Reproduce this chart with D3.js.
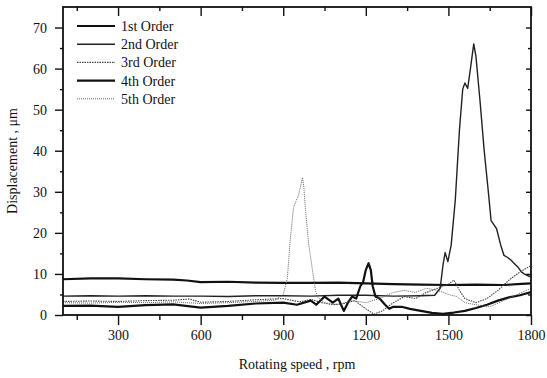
<!DOCTYPE html>
<html lang="en">
<head>
  <meta charset="UTF-8">
  <title>Displacement vs Rotating speed</title>
  <script src="https://d3js.org/d3.v7.min.js"></script>
  <style>
    body {
      margin: 0;
      background: #fff;
    }
    svg {
      font-family: "Liberation Serif", "Times New Roman", serif;
    }
    .tick text {
      font-family: "Liberation Serif", "Times New Roman", serif;
      font-size: 14px;
      fill: #111;
    }
    .tick line {
      stroke: #111;
      stroke-width: 1.4;
    }
    .legend text {
      font-size: 14px;
      fill: #111;
    }
  </style>
</head>
<body>
<div id="chart"></div>

<script>
  // values (rpm, um)
  const order1X = [100, 200, 300, 400, 500, 550, 600, 700, 800, 900, 1000, 1100, 1200, 1300, 1400, 1500, 1600, 1700, 1750, 1800];
  const order1Y = [8.7, 8.9, 8.9, 8.7, 8.6, 8.4, 8.0, 8.1, 7.9, 7.8, 7.8, 7.9, 7.7, 7.5, 7.4, 7.3, 7.4, 7.3, 7.5, 7.7];

  const order2X = [100, 200, 300, 400, 500, 600, 700, 800, 900, 1000, 1100, 1200, 1300, 1400, 1450, 1470, 1480, 1488, 1498, 1510, 1525, 1540, 1552, 1560, 1570, 1580, 1592, 1600, 1615, 1630, 1645, 1655, 1665, 1675, 1690, 1702, 1715, 1727, 1740, 1752, 1765, 1775, 1790, 1800];
  const order2Y = [4.6, 4.7, 4.6, 4.7, 4.6, 4.6, 4.5, 4.7, 4.7, 4.6, 4.8, 4.8, 4.6, 4.7, 4.8, 6.5, 12, 15.2, 13, 17, 28, 45, 55, 56.5, 55.2, 60, 66, 63, 52, 40, 30, 23, 22, 21, 17, 14.5, 14, 13.4, 12.5, 11.7, 10.5, 10, 9.5, 9.3];

  const order3X = [100, 200, 300, 400, 500, 560, 600, 700, 800, 900, 960, 1000, 1040, 1080, 1120, 1160, 1200, 1230, 1260, 1300, 1340, 1380, 1420, 1460, 1500, 1520, 1540, 1560, 1600, 1640, 1680, 1720, 1760, 1800];
  const order3Y = [3.3, 3.4, 3.3, 3.5, 3.6, 3.9, 3.1, 3.3, 3.7, 4.0, 3.2, 3.8, 3.0, 2.5, 2.8, 3.5, 1.5, 0.2, 1.0, 3.0, 4.5, 4.0, 5.5, 6.5, 7.5, 8.5, 6.0, 4.0, 3.0, 4.0, 6.0, 8.5, 10.5, 12];

  const order4X = [100, 200, 300, 400, 500, 600, 700, 800, 900, 950, 1000, 1020, 1050, 1080, 1100, 1120, 1135, 1150, 1165, 1180, 1190, 1200, 1210, 1218, 1225, 1235, 1250, 1270, 1285, 1300, 1330, 1360, 1400, 1440, 1480, 1520, 1560, 1600, 1640, 1680, 1720, 1760, 1800];
  const order4Y = [2.2, 2.3, 2.0, 2.4, 2.6, 1.8, 2.2, 2.8, 3.0, 2.5, 3.5, 2.5, 4.5, 3.0, 4.0, 1.0, 3.0, 4.5, 4.0, 7, 8, 11, 12.6, 11, 7, 4.5, 4.0, 2.5, 1.5, 2.0, 2.0, 1.5, 1.0, 0.5, 0.3, 0.6, 1.0, 1.7, 2.5, 3.5, 4.3, 4.8, 5.6];

  const order5X = [100, 200, 300, 400, 500, 600, 700, 800, 870, 900, 915, 925, 937, 945, 955, 970, 975, 981, 992, 1006, 1017, 1024, 1050, 1100, 1150, 1200, 1250, 1300, 1340, 1380, 1420, 1460, 1500, 1530, 1560, 1600, 1650, 1700, 1750, 1800];
  const order5Y = [3.0, 2.9, 3.1, 3.0, 3.2, 2.8, 3.0, 3.3, 3.6, 5, 9, 18, 26, 27.5, 29, 33.5, 31, 25.5, 17.5, 11, 6, 4.4, 3.0, 2.5, 3.5, 3.0, 4.0, 5.5, 6.0, 5.5, 6.5, 6.0, 5.0, 4.5, 3.0, 2.5, 2.0, 3.5, 5.0, 6.5];

  const orderNames = ["1st Order", "2nd Order", "3rd Order", "4th Order", "5th Order"];
  const xTicks = [300, 600, 900, 1200, 1500, 1800];
  const yTicks = [0, 10, 20, 30, 40, 50, 60, 70];

  const series = [
    { name: orderNames[0], xs: order1X, ys: order1Y },
    { name: orderNames[1], xs: order2X, ys: order2Y },
    { name: orderNames[2], xs: order3X, ys: order3Y },
    { name: orderNames[3], xs: order4X, ys: order4Y },
    { name: orderNames[4], xs: order5X, ys: order5Y }
  ];

  const lineStyle = {
    "1st Order": { color: "#111", width: 2.2, dash: null },
    "2nd Order": { color: "#222", width: 1.4, dash: null },
    "3rd Order": { color: "#444", width: 1.1, dash: "1.5,1" },
    "4th Order": { color: "#111", width: 2.2, dash: null },
    "5th Order": { color: "#666", width: 1, dash: "1,1" }
  };

  const width = 547;
  const height = 378;
  const margin = { top: 7, right: 16, bottom: 63, left: 63 };

  const svg = d3.select("#chart").append("svg")
    .attr("width", width)
    .attr("height", height);

  const x = d3.scaleLinear()
    .domain([100, 1800])
    .range([margin.left, width - margin.right]);

  const y = d3.scaleLinear()
    .domain([0, 75])
    .range([height - margin.bottom, margin.top]);

  svg.append("clipPath")
    .attr("id", "plot")
    .append("rect")
      .attr("x", margin.left)
      .attr("y", margin.top)
      .attr("width", width - margin.left - margin.right)
      .attr("height", height - margin.top - margin.bottom);

  // bottom axis, ticks outward
  svg.append("g")
    .attr("transform", `translate(0,${height - margin.bottom})`)
    .call(d3.axisBottom(x).tickValues(xTicks).tickFormat(d3.format("d"))
      .tickSize(10).tickPadding(5).tickSizeOuter(0))
    .call(g => g.select(".domain").remove());

  svg.append("g")
    .attr("transform", `translate(0,${height - margin.bottom})`)
    .call(d3.axisBottom(x).tickValues(d3.range(150, 1800, 300)).tickSize(5).tickFormat(""))
    .call(g => g.select(".domain").remove());

  // top axis, ticks inward
  svg.append("g")
    .attr("transform", `translate(0,${margin.top})`)
    .call(d3.axisTop(x).tickValues(xTicks).tickSize(-9).tickFormat(""))
    .call(g => g.select(".domain").remove());

  svg.append("g")
    .attr("transform", `translate(0,${margin.top})`)
    .call(d3.axisTop(x).tickValues(d3.range(150, 1800, 300)).tickSize(-4).tickFormat(""))
    .call(g => g.select(".domain").remove());

  // left axis, ticks outward
  svg.append("g")
    .attr("transform", `translate(${margin.left},0)`)
    .call(d3.axisLeft(y).tickValues(yTicks).tickSize(8).tickPadding(8))
    .call(g => g.select(".domain").remove());

  svg.append("g")
    .attr("transform", `translate(${margin.left},0)`)
    .call(d3.axisLeft(y).tickValues(d3.range(5, 75, 10)).tickSize(3).tickFormat(""))
    .call(g => g.select(".domain").remove());

  // right axis, ticks inward
  svg.append("g")
    .attr("transform", `translate(${width - margin.right},0)`)
    .call(d3.axisRight(y).tickValues(yTicks).tickSize(-5).tickFormat(""))
    .call(g => g.select(".domain").remove());

  svg.append("g")
    .attr("transform", `translate(${width - margin.right},0)`)
    .call(d3.axisRight(y).tickValues(d3.range(5, 75, 10)).tickSize(-3).tickFormat(""))
    .call(g => g.select(".domain").remove());

  const line = d3.line()
    .x(d => x(d[0]))
    .y(d => y(d[1]));

  svg.append("g")
    .attr("clip-path", "url(#plot)")
    .attr("fill", "none")
    .selectAll("path")
    .data(series)
    .join("path")
      .attr("d", s => line(d3.zip(s.xs, s.ys)))
      .attr("stroke", s => lineStyle[s.name].color)
      .attr("stroke-width", s => lineStyle[s.name].width)
      .attr("stroke-dasharray", s => lineStyle[s.name].dash)
      .attr("stroke-linejoin", "round");

  // frame
  svg.append("rect")
    .attr("x", margin.left)
    .attr("y", margin.top)
    .attr("width", width - margin.left - margin.right)
    .attr("height", height - margin.top - margin.bottom)
    .attr("fill", "none")
    .attr("stroke", "#111")
    .attr("stroke-width", 1.8);

  // legend
  const legend = svg.append("g")
    .attr("class", "legend")
    .selectAll("g")
    .data(orderNames)
    .join("g")
      .attr("transform", (d, i) => `translate(77,${26 + i * 18.2})`);

  legend.append("line")
    .attr("x1", 0)
    .attr("x2", 38)
    .attr("stroke", d => lineStyle[d].color)
    .attr("stroke-width", d => lineStyle[d].width)
    .attr("stroke-dasharray", d => lineStyle[d].dash);

  legend.append("text")
    .attr("x", 44)
    .attr("dy", "0.35em")
    .text(d => d);

  // axis titles
  svg.append("text")
    .attr("x", (margin.left + width - margin.right) / 2)
    .attr("y", 369)
    .attr("text-anchor", "middle")
    .attr("font-size", 14)
    .attr("fill", "#111")
    .text("Rotating speed , rpm");

  svg.append("text")
    .attr("transform", `translate(17,${(margin.top + height - margin.bottom) / 2}) rotate(-90)`)
    .attr("text-anchor", "middle")
    .attr("font-size", 14)
    .attr("fill", "#111")
    .text("Displacement , μm");
</script>

</body>
</html>
